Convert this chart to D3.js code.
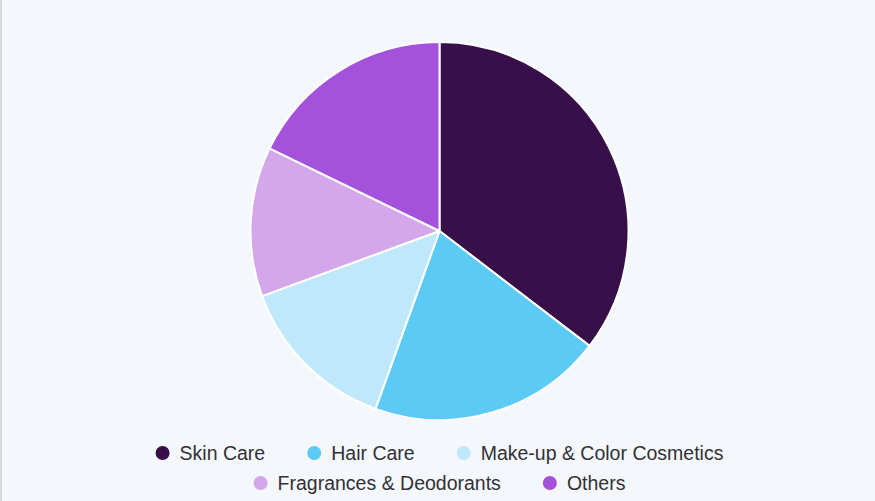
<!DOCTYPE html>
<html>
<head>
<meta charset="utf-8">
<script src="https://cdn.jsdelivr.net/npm/d3@7"></script>
<style>
  html, body { margin: 0; padding: 0; background: #f4f8fc; }
  svg { display: block; }
</style>
</head>
<body>
<svg id="chart"></svg>
<script>
// data (share of total, %)
const categories = ["Skin Care", "Hair Care", "Make-up & Color Cosmetics", "Fragrances & Deodorants", "Others"];
const shares = [35.4, 20.1, 13.9, 12.8, 17.8];
const colors = ["#37104a", "#5bcaf5", "#bfe9fa", "#d4a7ea", "#a451dc"];
const legendRows = [[0, 1, 2], [3, 4]];

const width = 875, height = 501;
const cx = 439.5, cy = 231, radius = 189;

const svg = d3.select("#chart")
  .attr("width", width)
  .attr("height", height);

// background + thin left border
svg.append("rect")
  .attr("width", width).attr("height", height)
  .attr("fill", "#f4f8fc");
svg.append("rect")
  .attr("x", 0).attr("y", 0).attr("width", 2).attr("height", height)
  .attr("fill", "#d6d9dc");

const pieData = categories.map((c, i) => ({ name: c, value: shares[i], color: colors[i] }));

const pie = d3.pie()
  .value(d => d.value)
  .sort(null);

const arc = d3.arc()
  .innerRadius(0)
  .outerRadius(radius);

const g = svg.append("g")
  .attr("transform", `translate(${cx},${cy})`);

g.selectAll("path")
  .data(pie(pieData))
  .enter()
  .append("path")
  .attr("d", arc)
  .attr("fill", d => d.data.color)
  .attr("stroke", "#ffffff")
  .attr("stroke-width", 2)
  .attr("stroke-linejoin", "round");

// legend, each row centred under the pie
const fontSize = 19.5;
const dotR = 7, dotGap = 17, itemGap = 42;
const rowY = [453, 483];

legendRows.forEach((row, r) => {
  const rowG = svg.append("g");
  let x = 0;
  row.forEach((idx, k) => {
    const item = rowG.append("g").attr("transform", `translate(${x},${rowY[r]})`);
    item.append("circle")
      .attr("cx", dotR)
      .attr("cy", 0)
      .attr("r", dotR)
      .attr("fill", colors[idx]);
    const t = item.append("text")
      .attr("x", dotR + dotGap)
      .attr("y", 0)
      .attr("dy", "0.35em")
      .attr("font-family", "'Liberation Sans', Arial, sans-serif")
      .attr("font-size", fontSize)
      .attr("fill", "#333036")
      .text(categories[idx]);
    const w = t.node().getComputedTextLength();
    x += dotR + dotGap + w + (k < row.length - 1 ? itemGap : 0);
  });
  rowG.attr("transform", `translate(${cx - x / 2},0)`);
});
</script>
</body>
</html>
